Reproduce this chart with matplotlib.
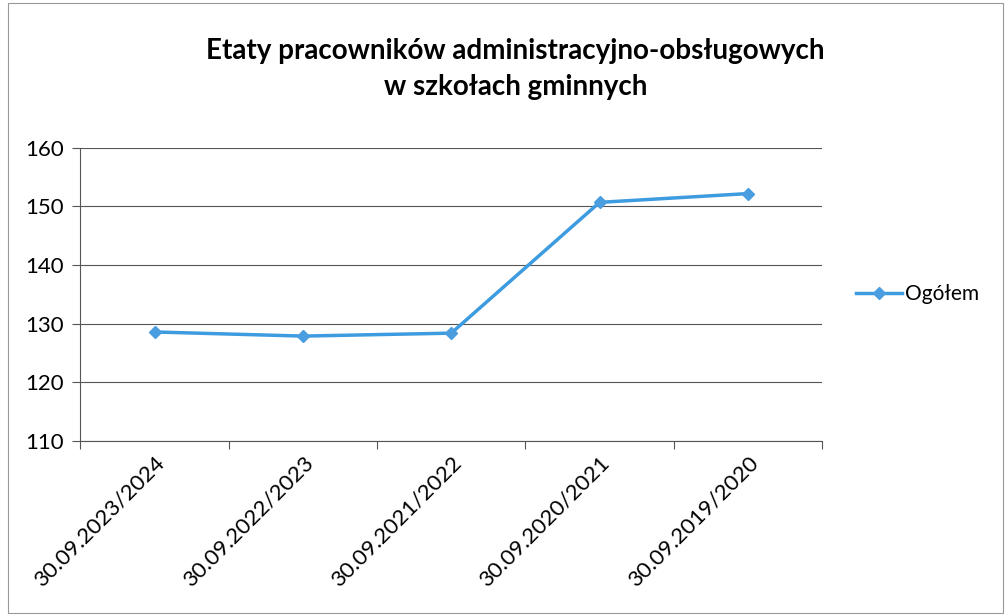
import matplotlib.pyplot as plt
import numpy as np
from matplotlib.patches import Rectangle

plt.rcParams['font.family'] = ['Lato', 'DejaVu Sans']

categories = ['30.09.2023/2024', '30.09.2022/2023', '30.09.2021/2022',
              '30.09.2020/2021', '30.09.2019/2020']
ogolem = [128.6, 127.9, 128.4, 150.7, 152.2]
yticks = [110, 120, 130, 140, 150, 160]

fig = plt.figure(figsize=(10.05, 6.16), dpi=100)
ax = fig.add_axes([0.08, 0.284, 0.738, 0.476])

x = np.arange(len(categories))
ax.plot(x, ogolem, color='#3d9be0', lw=2.5, marker='D', ms=6.5,
        markerfacecolor='#4a9ee0', markeredgecolor='#4a9ee0', label='Ogółem')

ax.set_xlim(-0.5, len(categories) - 0.5)
ax.set_ylim(110, 160)
ax.set_yticks(yticks)
ax.set_xticks(np.arange(-0.5, len(categories)), minor=False)
ax.set_xticklabels([])
ax.set_xticks(x, minor=True)
ax.set_xticklabels(categories, minor=True, rotation=45, ha='right',
                   rotation_mode='anchor', fontsize=16)
ax.tick_params(axis='x', which='minor', length=0, pad=8)
ax.tick_params(axis='x', which='major', length=6, direction='out', color='#555555')
ax.tick_params(axis='y', length=6, labelsize=16, color='#555555', pad=6)
ax.grid(axis='y', color='#555555', lw=0.8)
for s in ['top', 'right']:
    ax.spines[s].set_visible(False)
for s in ['left', 'bottom']:
    ax.spines[s].set_color('#555555')
    ax.spines[s].set_linewidth(0.8)

ax.legend(loc='center left', bbox_to_anchor=(1.02, 0.5), frameon=False,
          fontsize=15, handlelength=2.2, handletextpad=0.15)

fig.text(0.513, 0.888, 'Etaty pracowników administracyjno-obsługowych\nw szkołach gminnych',
         ha='center', va='center', fontsize=20, fontweight='bold', linespacing=1.45)

fig.patches.append(Rectangle((0.008, 0.005), 0.99, 0.99, transform=fig.transFigure,
                             fill=False, edgecolor='#999999', lw=0.8))

fig.savefig('out.png', dpi=100)
